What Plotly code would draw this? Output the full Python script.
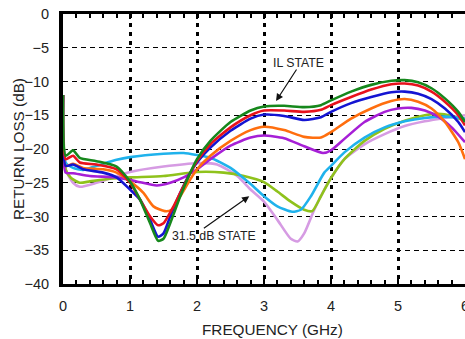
import plotly.graph_objects as go

# Frequency (GHz) and return loss (dB)
green_x = [0.0, 0.04, 0.15, 0.25, 0.5, 0.8, 1.0, 1.15, 1.3, 1.42, 1.5, 1.6, 1.75, 1.9, 2.0, 2.2, 2.5, 2.8, 3.0, 3.3, 3.6, 3.85, 4.0, 4.3, 4.6, 4.9, 5.1, 5.3, 5.5, 5.7, 5.9, 6.0]
green_y = [-12, -21, -20.2, -21.3, -21.8, -22.6, -24.8, -27.5, -31, -33.6, -33.3, -31, -27, -23.5, -21.5, -18.8, -16, -14.3, -13.7, -13.6, -13.8, -13.5, -12.8, -11.5, -10.5, -9.9, -9.8, -10.1, -11, -12.5, -14.5, -16]

red_x = [0.0, 0.04, 0.15, 0.25, 0.5, 0.8, 1.0, 1.15, 1.3, 1.42, 1.5, 1.65, 1.8, 2.0, 2.2, 2.5, 2.8, 3.0, 3.3, 3.6, 3.85, 4.0, 4.3, 4.6, 4.9, 5.1, 5.3, 5.5, 5.7, 5.9, 6.0]
red_y = [-12, -21.5, -21, -22, -22.3, -23, -25, -27.5, -30, -31.3, -31, -28.5, -25.5, -21.8, -19.3, -16.8, -15, -14.3, -14.3, -14.5, -14.2, -13.5, -12.3, -11.2, -10.4, -10.3, -10.6, -11.5, -13, -15, -16.5]

blue_x = [0.0, 0.04, 0.15, 0.3, 0.6, 0.8, 1.0, 1.15, 1.3, 1.42, 1.5, 1.6, 1.75, 1.9, 2.0, 2.2, 2.5, 2.8, 3.0, 3.3, 3.6, 3.85, 4.0, 4.3, 4.6, 4.9, 5.1, 5.3, 5.5, 5.7, 5.9, 6.0]
blue_y = [-12, -22.5, -22.3, -23, -23.5, -24.2, -26, -27.5, -30.5, -33, -32.5, -30, -26.5, -23.5, -22, -19.8, -17.3, -15.5, -14.9, -15.1, -15.7, -15.3, -14.5, -13.2, -12.3, -11.6, -11.5, -11.8, -12.6, -14, -16, -17.5]

orange_x = [0.0, 0.04, 0.15, 0.3, 0.6, 0.8, 1.0, 1.2, 1.35, 1.52, 1.62, 1.75, 1.9, 2.0, 2.2, 2.5, 2.8, 3.0, 3.3, 3.6, 3.85, 4.0, 4.3, 4.6, 4.9, 5.1, 5.3, 5.5, 5.7, 5.9, 6.0]
orange_y = [-12, -22.5, -22.2, -22.8, -23, -23.5, -24.8, -26.5, -28.5, -29.2, -29, -27, -24.5, -23, -21, -18.8, -17.2, -16.7, -17.2, -18.2, -18.3, -17.5, -15.5, -14, -12.9, -12.6, -13, -14, -16, -19, -21.5]

purple_x = [0.0, 0.04, 0.15, 0.4, 0.8, 1.1, 1.4, 1.6, 1.8, 2.0, 2.2, 2.5, 2.8, 3.0, 3.3, 3.6, 3.88, 4.0, 4.2, 4.5, 4.8, 5.0, 5.2, 5.4, 5.6, 5.8, 6.0]
purple_y = [-12, -23.5, -23.6, -24, -24.2, -24.8, -25.4, -25, -24.2, -23, -21.5, -19.5, -18.3, -18, -18.4, -19.6, -20.6, -20.2, -18.5, -16, -14.5, -14, -13.9, -14.3, -15.2, -16.8, -19]

lime_x = [0.0, 0.04, 0.12, 0.25, 0.4, 0.7, 1.0, 1.5, 2.0, 2.4, 2.7, 3.0, 3.2, 3.4, 3.6, 3.72, 3.85, 4.0, 4.2, 4.5, 4.8, 5.1, 5.4, 5.6, 5.8, 6.0]
lime_y = [-12, -23, -24.3, -25, -24.8, -24.4, -24.2, -24, -23.4, -23.5, -24, -24.9, -26.3, -27.8, -29, -29.2, -27, -24.3, -21.5, -18.8, -17, -15.8, -15, -14.8, -15.1, -15.8]

cyan_x = [0.0, 0.04, 0.15, 0.3, 0.5, 0.8, 1.0, 1.5, 1.8, 2.0, 2.2, 2.5, 2.8, 3.0, 3.2, 3.42, 3.55, 3.7, 3.9, 4.0, 4.2, 4.5, 4.8, 5.1, 5.4, 5.7, 6.0]
cyan_y = [-12, -22, -22.8, -23.1, -22.5, -21.6, -21.2, -20.7, -20.6, -20.9, -21.3, -22.8, -25.2, -27, -28.5, -29.3, -29, -27, -23.5, -22.5, -20.5, -18.3, -16.8, -15.9, -15.4, -15.2, -15.5]

lav_x = [0.0, 0.04, 0.15, 0.25, 0.5, 0.8, 1.0, 1.5, 2.0, 2.3, 2.6, 2.8, 3.0, 3.2, 3.4, 3.5, 3.6, 3.75, 3.9, 4.0, 4.2, 4.5, 4.8, 5.1, 5.4, 5.7, 6.0]
lav_y = [-12, -23, -25, -25.6, -25, -24, -23.4, -22.6, -22.1, -22.3, -24, -26, -27.8, -30.5, -33.3, -33.7, -32.5, -29, -26, -24.3, -21.5, -19.3, -17.8, -16.6, -15.9, -15.4, -15]

x_ticks = [0, 1, 2, 3, 4, 5]
x_edge_tick = 6
y_ticks = [0, -5, -10, -15, -20, -25, -30, -35, -40]

series = [
    (lav_x, lav_y, "#d69be3"),
    (lime_x, lime_y, "#8fc21c"),
    (cyan_x, cyan_y, "#1fb2ec"),
    (purple_x, purple_y, "#a61fd6"),
    (orange_x, orange_y, "#ff6e0e"),
    (blue_x, blue_y, "#1414d2"),
    (red_x, red_y, "#e8121c"),
    (green_x, green_y, "#16881c"),
]

fig = go.Figure()
for xs, ys, c in series:
    fig.add_trace(go.Scatter(x=xs, y=ys, mode="lines",
                             line=dict(color=c, width=2.6, shape="spline", smoothing=0.6),
                             showlegend=False, hoverinfo="skip"))

font = "Liberation Sans, Arial, sans-serif"
txt = "#222"
fig.update_layout(
    width=465, height=339,
    margin=dict(l=63, r=0, t=14, b=55),
    paper_bgcolor="white", plot_bgcolor="white",
    font=dict(family=font, size=14.5, color=txt),
    xaxis=dict(range=[0, 6], tickvals=x_ticks, ticks="inside", ticklen=5, tickwidth=2,
               tickcolor="black", mirror="allticks",
               minor=dict(dtick=0.2, ticks="inside", ticklen=4, tickwidth=2, tickcolor="black", showgrid=False),
               showline=True, linecolor="black", linewidth=3,
               showgrid=True, gridcolor="black", gridwidth=2.5, griddash="4px,5px",
               zeroline=False, ticklabelstandoff=7,
               tickfont=dict(size=14.5, color=txt)),
    yaxis=dict(range=[-40, 0], tickvals=y_ticks, ticks="", showline=True,
               linecolor="black", linewidth=4, mirror=False,
               showgrid=True, gridcolor="black", gridwidth=1, griddash="5px,4px",
               zeroline=False, ticklabelstandoff=7,
               tickfont=dict(size=14.5, color=txt)),
    annotations=[
        dict(x=x_edge_tick, y=-0.080, xref="x", yref="paper", text=str(x_edge_tick), showarrow=False,
             yanchor="middle", font=dict(size=14.5, color=txt)),
        dict(x=0.522, y=-0.170, xref="paper", yref="paper", text="FREQUENCY (GHz)",
             showarrow=False, yanchor="middle", font=dict(size=15.3, color=txt)),
        dict(x=-0.112, y=0.5, xref="paper", yref="paper", text="RETURN LOSS (dB)",
             showarrow=False, textangle=-90, xanchor="center", font=dict(size=15.3, color=txt)),
        dict(x=3.18, y=-12.9, ax=3.50, ay=-8.0, xref="x", yref="y", axref="x", ayref="y",
             text="", showarrow=True, arrowhead=2, arrowsize=1.2, arrowwidth=1.2, arrowcolor="#111"),
        dict(x=3.52, y=-7.2, xref="x", yref="y", text="IL STATE", showarrow=False,
             font=dict(size=12.3, color=txt)),
        dict(x=2.78, y=-27.0, ax=2.08, ay=-31.9, xref="x", yref="y", axref="x", ayref="y",
             text="", showarrow=True, arrowhead=2, arrowsize=1.2, arrowwidth=1.2, arrowcolor="#111"),
        dict(x=2.26, y=-32.9, xref="x", yref="y", text="31.5 dB STATE", showarrow=False,
             font=dict(size=12.3, color=txt)),
    ],
)

fig.write_html("out.html")
